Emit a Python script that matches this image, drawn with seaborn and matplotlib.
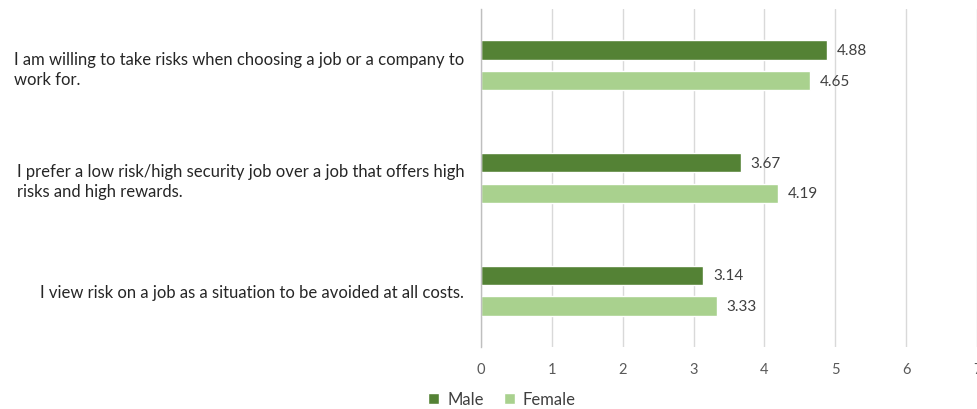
import textwrap
import matplotlib
matplotlib.use("Agg")
import matplotlib.pyplot as plt
from matplotlib.patches import Patch
import pandas as pd
import seaborn as sns

# Survey statements and mean agreement scores by gender
statements = [
    "I am willing to take risks when choosing a job or a company to work for.",
    "I prefer a low risk/high security job over a job that offers high risks and high rewards.",
    "I view risk on a job as a situation to be avoided at all costs.",
]
male_scores = [4.88, 3.67, 3.14]
female_scores = [4.65, 4.19, 3.33]
genders = ["Male", "Female"]
x_ticks = [0, 1, 2, 3, 4, 5, 6, 7]

male_color = "#548235"
female_color = "#A9D18E"

df = pd.DataFrame({
    "Statement": statements * 2,
    "Score": male_scores + female_scores,
    "Gender": [genders[0]] * len(statements) + [genders[1]] * len(statements),
})

sns.set_theme(style="white")
plt.rcParams["font.family"] = ["Lato", "DejaVu Sans"]

fig = plt.figure(figsize=(9.77, 4.10), dpi=100)
ax = fig.add_axes([481 / 977, 1 - 348 / 410, 496 / 977, 338 / 410])

sns.barplot(
    data=df, x="Score", y="Statement", hue="Gender", hue_order=genders,
    order=statements, palette=[male_color, female_color], orient="h",
    width=0.544, gap=0.377, legend=False, ax=ax, saturation=1,
)

for container in ax.containers:
    ax.bar_label(container, fmt="%.2f", padding=7, fontsize=11, color="#404040")

ax.set_xlim(0, 7)
ax.set_xticks(x_ticks)
ax.set_xticklabels([str(t) for t in x_ticks], fontsize=10.5, color="#595959")
ax.set_yticks(range(len(statements)))
ax.set_yticklabels([textwrap.fill(s, 65) for s in statements], fontsize=12,
                   color="#262626", ma="left", linespacing=1.3)
ax.tick_params(axis="x", length=0, pad=11)
ax.tick_params(axis="y", length=0, pad=12)
ax.set_xlabel("")
ax.set_ylabel("")

ax.grid(axis="x", color="#D9D9D9", linewidth=1)
ax.set_axisbelow(True)
for side in ["top", "right", "bottom"]:
    ax.spines[side].set_visible(False)
ax.spines["left"].set_color("#BFBFBF")
ax.spines["left"].set_linewidth(1)

handles = [Patch(facecolor=male_color, label=genders[0]),
           Patch(facecolor=female_color, label=genders[1])]
fig.legend(handles=handles, loc="center", bbox_to_anchor=(502 / 977, 1 - 400 / 410),
           ncol=2, frameon=False, fontsize=12, handlelength=0.65, handleheight=0.65,
           handletextpad=0.5, columnspacing=1.2, labelcolor="#404040")

fig.savefig("out.png", dpi=100)
